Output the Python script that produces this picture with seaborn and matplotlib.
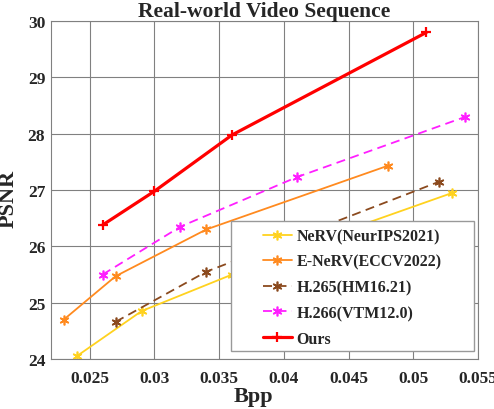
import matplotlib
matplotlib.use("Agg")
import matplotlib.pyplot as plt
from matplotlib.patches import Rectangle
import seaborn as sns
import pandas as pd

# values
nerv_bpp = [0.024, 0.029, 0.036, 0.045, 0.053]
nerv_psnr = [24.05, 24.85, 25.5, 26.3, 26.95]
enerv_bpp = [0.023, 0.027, 0.034, 0.048]
enerv_psnr = [24.7, 25.47, 26.3, 27.43]
h265_bpp = [0.027, 0.034, 0.043, 0.052]
h265_psnr = [24.66, 25.55, 26.35, 27.15]
h266_bpp = [0.026, 0.032, 0.041, 0.054]
h266_psnr = [25.5, 26.35, 27.23, 28.3]
ours_bpp = [0.026, 0.030, 0.036, 0.051]
ours_psnr = [26.38, 26.98, 27.98, 29.8]

xticks = [0.025, 0.03, 0.035, 0.04, 0.045, 0.05, 0.055]
xtick_labels = ["0.025", "0.03", "0.035", "0.04", "0.045", "0.05", "0.055"]
yticks = [24, 25, 26, 27, 28, 29, 30]

sns.set_style("white")
plt.rcParams['font.family'] = ['Liberation Serif', 'DejaVu Serif']
plt.rcParams['font.weight'] = 'bold'

fig = plt.figure(figsize=(4.94, 4.1), dpi=100)
ax = fig.add_axes([0.103, 0.122, 0.865, 0.824])

asterisk = (6, 2, 0)
series = [
    ("NeRV(NeurIPS2021)", nerv_bpp, nerv_psnr, "#FFD21F", "-", asterisk, 1.3),
    ("E-NeRV(ECCV2022)", enerv_bpp, enerv_psnr, "#FF8A1F", "-", asterisk, 1.3),
    ("H.265(HM16.21)", h265_bpp, h265_psnr, "#8B4A1E", (0, (5, 3)), asterisk, 1.3),
    ("H.266(VTM12.0)", h266_bpp, h266_psnr, "#FF1FFF", (0, (5, 3)), asterisk, 1.3),
    ("Ours", ours_bpp, ours_psnr, "#FF0000", "-", "+", 2.3),
]

for name, xs, ys, col, ls, mk, lw in series:
    df = pd.DataFrame({"Bpp": xs, "PSNR": ys})
    sns.lineplot(data=df, x="Bpp", y="PSNR", ax=ax, color=col, linestyle=ls,
                 marker=mk, markersize=7, markeredgewidth=1.6 if mk == "+" else 1.2,
                 markeredgecolor=col, linewidth=lw, label=name)

ax.set_xlim(0.022, 0.055)
ax.set_ylim(24, 30)
ax.set_xticks(xticks)
ax.set_xticklabels(xtick_labels)
ax.set_yticks(yticks)
ax.tick_params(labelsize=12.5, length=0)
ax.tick_params(axis='x', pad=8)
ax.tick_params(axis='y', pad=4)
for lab in ax.get_xticklabels() + ax.get_yticklabels():
    lab.set_fontweight('bold')
ax.grid(True, color="#808080", linewidth=0.8)
for sp in ax.spines.values():
    sp.set_color("#808080")
    sp.set_linewidth(0.8)

ax.set_xlabel("Bpp", fontsize=16, fontweight='bold')
ax.xaxis.set_label_coords(0.475, -0.08)
ax.set_ylabel("PSNR", fontsize=16, fontweight='bold')
ax.yaxis.set_label_coords(-0.075, 0.476)
ax.set_title("Real-world Video Sequence", fontsize=15.5, fontweight='bold', pad=4)

# legend frame drawn as its own box, legend entries placed inside it
ax.add_patch(Rectangle((0.4215, 0.0237), 0.569, 0.384, transform=ax.transAxes,
                       facecolor="white", edgecolor="#999999", linewidth=1.0,
                       zorder=4.5, clip_on=False))
leg = ax.legend(loc="upper left", bbox_to_anchor=(0.4965, 0.387),
                handlelength=1.8, handletextpad=0.3, labelspacing=0.6,
                borderpad=0, borderaxespad=0, frameon=False,
                prop={'weight': 'bold', 'size': 11.5})
leg.set_zorder(5)

fig.savefig("out.png", dpi=100)
